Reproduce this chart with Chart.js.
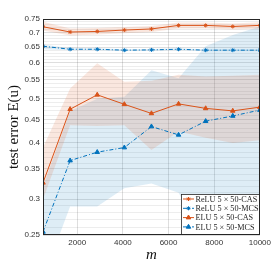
<!DOCTYPE html>
<html><head><meta charset="utf-8">
<script src="https://cdn.jsdelivr.net/npm/chart.js@4.4.0/dist/chart.umd.min.js"></script>
<style>html,body{margin:0;padding:0;background:#fff;overflow:hidden}</style>
</head><body>
<canvas id="c" width="274" height="274" style="width:274px;height:274px;display:block"></canvas>
<script>
// ---- data ----
const m = [500, 1687.5, 2875, 4062.5, 5250, 6437.5, 7625, 8812.5, 10000];

const reluCAS      = [0.721, 0.702, 0.704, 0.709, 0.713, 0.726, 0.726, 0.722, 0.726];
const reluCASUpper = [0.740, 0.715, 0.716, 0.720, 0.724, 0.737, 0.737, 0.733, 0.738];
const reluCASLower = [0.707, 0.690, 0.693, 0.698, 0.702, 0.715, 0.715, 0.711, 0.714];

const reluMCS      = [0.653, 0.643, 0.643, 0.640, 0.641, 0.643, 0.640, 0.640, 0.640];
const reluMCSUpper = [0.659, 0.646, 0.646, 0.643, 0.644, 0.646, 0.643, 0.643, 0.643];
const reluMCSLower = [0.643, 0.640, 0.640, 0.637, 0.638, 0.640, 0.637, 0.637, 0.637];

const eluCAS       = [0.326, 0.474, 0.510, 0.486, 0.464, 0.487, 0.476, 0.470, 0.479];
const eluCASUpper  = [0.390, 0.527, 0.599, 0.545, 0.548, 0.565, 0.560, 0.562, 0.565];
const eluCASLower  = [0.300, 0.437, 0.435, 0.437, 0.385, 0.423, 0.410, 0.399, 0.405];

const eluMCS       = [0.254, 0.365, 0.381, 0.390, 0.434, 0.416, 0.446, 0.458, 0.472];
const eluMCSUpper  = [0.320, 0.470, 0.500, 0.505, 0.578, 0.555, 0.653, 0.691, 0.722];
const eluMCSLower  = [0.200, 0.289, 0.289, 0.317, 0.325, 0.310, 0.240, 0.230, 0.220];

const seriesLabels = ['ReLU 5 \u00d7 50-CAS', 'ReLU 5 \u00d7 50-MCS', 'ELU 5 \u00d7 50-CAS', 'ELU 5 \u00d7 50-MCS'];
const xTickValues = [2000, 4000, 6000, 8000, 10000];
const yTickValues = []; for (let k = 25; k <= 75; k++) yTickValues.push(k / 100);
const xLabel = 'm';
const yLabel = 'test error E(u)';

// ---- styles ----
const ORANGE = '#D95319', BLUE = '#0072BD';
const ORANGE_FILL = 'rgba(217,83,25,0.14)', BLUE_FILL = 'rgba(0,114,189,0.13)';
const DASHDOT = [4, 2, 1, 2];

const zip = (xs, ys) => xs.map((x, i) => ({x: x, y: ys[i]}));

function band(upper, lower, color) {
  return [
    {data: zip(m, upper), borderWidth: 0, pointRadius: 0, fill: '+1', backgroundColor: color, order: 2, isBand: true},
    {data: zip(m, lower), borderWidth: 0, pointRadius: 0, fill: false, backgroundColor: color, order: 2, isBand: true}
  ];
}
function line(label, ys, color, style, radius, dash) {
  return {label: label, data: zip(m, ys), borderColor: color, backgroundColor: color,
    pointBackgroundColor: color, pointBorderColor: color, borderWidth: 1, borderDash: dash,
    pointStyle: style, pointRadius: radius, pointBorderWidth: 1, fill: false, order: 0, isLine: true};
}

const datasets = [
  ...band(reluCASUpper, reluCASLower, ORANGE_FILL),
  ...band(reluMCSUpper, reluMCSLower, BLUE_FILL),
  ...band(eluCASUpper, eluCASLower, ORANGE_FILL),
  ...band(eluMCSUpper, eluMCSLower, BLUE_FILL),
  line(seriesLabels[0], reluCAS, ORANGE, 'star', 2, []),
  line(seriesLabels[1], reluMCS, BLUE, 'star', 2, DASHDOT),
  line(seriesLabels[2], eluCAS, ORANGE, 'triangle', 2.6, []),
  line(seriesLabels[3], eluMCS, BLUE, 'triangle', 2.6, DASHDOT)
];

const isMajorY = v => Math.abs(Math.round(v * 20) - v * 20) < 1e-6;

const boxPlugin = {
  id: 'box',
  afterDatasetsDraw(chart) {
    const a = chart.chartArea, ctx = chart.ctx;
    ctx.save();
    ctx.strokeStyle = '#262626';
    ctx.lineWidth = 1;
    ctx.strokeRect(Math.round(a.left) + 0.5, Math.round(a.top) + 0.5,
      Math.round(a.right - a.left) - 1, Math.round(a.bottom - a.top) - 1);
    ctx.restore();
  }
};

const legendPlugin = {
  id: 'boxLegend',
  afterDraw(chart) {
    const a = chart.chartArea, ctx = chart.ctx;
    const w = 78, h = 40;
    const x0 = Math.round(a.right) - w - 1, y0 = Math.round(a.bottom) - h - 1;
    ctx.save();
    ctx.fillStyle = '#fff';
    ctx.fillRect(x0, y0, w, h);
    ctx.strokeStyle = '#262626';
    ctx.lineWidth = 0.8;
    ctx.strokeRect(x0 + 0.5, y0 + 0.5, w, h);
    const items = chart.data.datasets.filter(d => d.isLine);
    items.forEach((ds, i) => {
      const y = y0 + 5 + i * 9.3;
      ctx.strokeStyle = ds.borderColor;
      ctx.lineWidth = 1;
      ctx.setLineDash(ds.borderDash || []);
      ctx.beginPath(); ctx.moveTo(x0 + 2, y); ctx.lineTo(x0 + 13, y); ctx.stroke();
      ctx.setLineDash([]);
      ctx.fillStyle = ds.borderColor;
      Chart.helpers.drawPoint(ctx, {pointStyle: ds.pointStyle, radius: ds.pointRadius, borderWidth: 1, rotation: 0}, x0 + 7.5, y);
      ctx.fillStyle = '#262626';
      ctx.font = '8.2px "Liberation Serif", serif';
      ctx.textBaseline = 'middle';
      ctx.textAlign = 'left';
      ctx.fillText(ds.label, x0 + 14.5, y + 0.5);
    });
    ctx.restore();
  }
};

new Chart(document.getElementById('c'), {
  type: 'line',
  data: {datasets: datasets},
  options: {
    responsive: false,
    devicePixelRatio: 1,
    animation: false,
    layout: {padding: {left: 0, right: 11, top: 19, bottom: 0}},
    plugins: {legend: {display: false}, tooltip: {enabled: false}, filler: {propagate: false}},
    elements: {line: {tension: 0}},
    scales: {
      x: {
        type: 'linear', min: 500, max: 10000,
        afterBuildTicks: s => { s.ticks = xTickValues.map(v => ({value: v})); },
        afterFit: s => { s.height = 39; },
        border: {display: false},
        grid: {color: 'rgba(0,0,0,0.13)', lineWidth: 1, drawTicks: false},
        ticks: {padding: 3, color: '#333', font: {family: '"Liberation Sans", Arial, sans-serif', size: 8}, maxRotation: 0, autoSkip: false,
          callback: v => String(v)},
        title: {display: true, text: xLabel, color: '#111', padding: {top: 0, bottom: 10},
          font: {family: '"Liberation Serif", serif', size: 15, style: 'italic'}}
      },
      y: {
        type: 'logarithmic', min: 0.25, max: 0.75,
        afterBuildTicks: s => { s.ticks = yTickValues.map(v => ({value: v})); },
        afterFit: s => { s.width = 43; },
        border: {display: false},
        grid: {drawTicks: false,
          color: c => isMajorY(c.tick.value) ? 'rgba(0,0,0,0.13)' : 'rgba(0,0,0,0.07)', lineWidth: 1},
        ticks: {padding: 3, color: '#333', autoSkip: false, font: {family: '"Liberation Sans", Arial, sans-serif', size: 8},
          callback: v => isMajorY(v) ? String(Math.round(v * 100) / 100) : ''},
        title: {display: true, text: yLabel, color: '#111', padding: {top: 5, bottom: 0},
          font: {family: '"Liberation Serif", serif', size: 15}}
      }
    }
  },
  plugins: [boxPlugin, legendPlugin]
});
</script>
</body></html>
